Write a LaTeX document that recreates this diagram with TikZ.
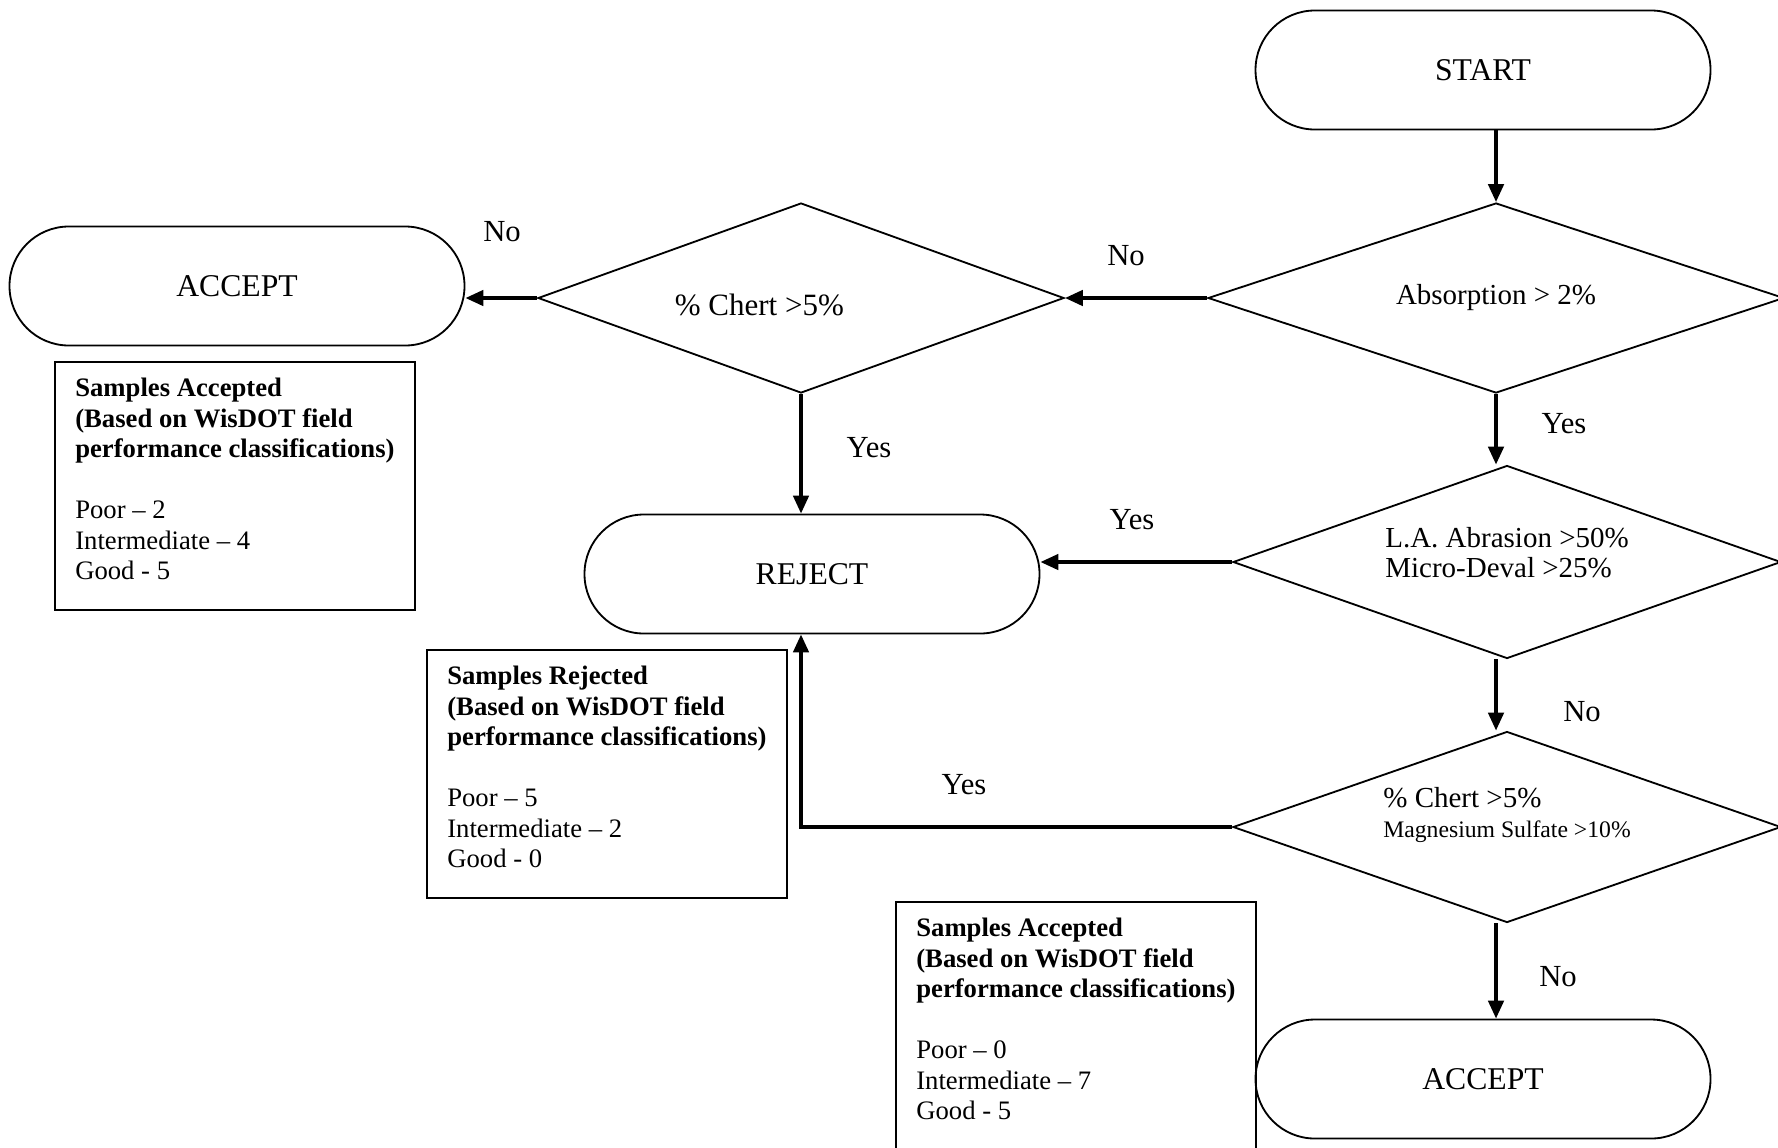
\documentclass[tikz,border=0pt]{standalone}
\usepackage{fontspec}
\setmainfont{Liberation Serif}
\usepackage{tikz}
\usetikzlibrary{calc}
\usetikzlibrary{shapes.geometric,arrows.meta}

\tikzset{
  terminal/.style={draw, line width=0.55pt, rectangle, rounded corners=17.8pt, minimum width=136.5pt, minimum height=35.7pt, font=\fontsize{9.5}{11}\selectfont},
  decision/.style={draw, line width=0.55pt, diamond, aspect=3, inner sep=0pt, align=left, font=\fontsize{8.7}{9}\selectfont},
  infobox/.style={draw, line width=0.55pt, rectangle, anchor=north west, minimum width=108pt, minimum height=74.4pt, inner sep=0pt, text depth=4.2pt, align=left, font=\fontsize{8}{9.15}\selectfont},
  flowarrow/.style={line width=1.1pt, -{Triangle[length=5.4pt, width=4.6pt]}},
  lbl/.style={font=\fontsize{9.2}{11}\selectfont}
}

\begin{document}
\begin{tikzpicture}[x=0.3pt, y=-0.3pt]
        %FRAME
        \useasboundingbox (0,0) rectangle (1778,1147);
        %TERMINAL
        \node[terminal] (start) at (1483,70) {START};
        \node[terminal] (accA) at (237,286) {ACCEPT};
        \node[terminal] (reject) at (812,574) {REJECT};
        \node[terminal] (accB) at (1483,1079) {ACCEPT};
        %DECISION
        \node[decision, minimum width=172.8pt, minimum height=57pt] (absorp) at (1496,298) {Absorption > 2\%};
        \node[decision, minimum width=157.8pt, minimum height=57pt, text height=10.5pt, text depth=0.1pt] (chert) at (801,298) {\fontsize{9.3}{11}\selectfont\% Chert >5\%\hspace*{25pt}};
        \node[decision, minimum width=164.4pt, minimum height=57.9pt, text depth=6pt] (abras) at (1507,562) {L.A. Abrasion >50\%\\Micro-Deval >25\%};
        \node[decision, aspect=2.8, minimum width=164.4pt, minimum height=57.3pt, text depth=9pt] (sulf) at (1507,827) {\% Chert >5\%\\{\fontsize{7.1}{8.5}\selectfont Magnesium Sulfate >10\%}};
        %BOX
        \node[infobox] (boxA) at (54,361) {\textbf{Samples Accepted}\\\textbf{(Based on WisDOT field}\\\textbf{performance classifications)}\\[9.15pt]Poor \textendash{} 2\\Intermediate \textendash{} 4\\Good - 5};
        \node[infobox] (boxB) at (426,649) {\textbf{Samples Rejected}\\\textbf{(Based on WisDOT field}\\\textbf{performance classifications)}\\[9.15pt]Poor \textendash{} 5\\Intermediate \textendash{} 2\\Good - 0};
        \node[infobox] (boxC) at (895,901) {\textbf{Samples Accepted}\\\textbf{(Based on WisDOT field}\\\textbf{performance classifications)}\\[9.15pt]Poor \textendash{} 0\\Intermediate \textendash{} 7\\Good - 5};
        %ARROW
        \draw[flowarrow] (start.south -| absorp.north) -- (absorp.north);
        \draw[flowarrow] (absorp.west) -- (chert.east);
        \draw[flowarrow] (chert.west) -- (chert.west -| accA.east);
        \draw[flowarrow] (chert.south) -- (chert.south |- reject.north);
        \draw[flowarrow] (absorp.south) -- (absorp.south |- abras.north);
        \draw[flowarrow] (abras.west) -- (abras.west -| reject.east);
        \draw[flowarrow] (absorp.south |- abras.south) -- (absorp.south |- sulf.north);
        \draw[flowarrow] (sulf.west) -- (sulf.west -| chert.south) -- (chert.south |- reject.south);
        \draw[flowarrow] (absorp.south |- sulf.south) -- (absorp.south |- accB.north);
        %LABEL
        \node[lbl] (noA) at (1126,256) {No};
        \node[lbl] (noB) at (502,232) {No};
        \node[lbl] (yesA) at (869,448) {Yes};
        \node[lbl] (yesB) at (1564,424) {Yes};
        \node[lbl] (yesC) at (1132,520) {Yes};
        \node[lbl] (noC) at (1582,712) {No};
        \node[lbl] (yesD) at (964,785) {Yes};
        \node[lbl] (noD) at (1558,977) {No};
\end{tikzpicture}
\end{document}
